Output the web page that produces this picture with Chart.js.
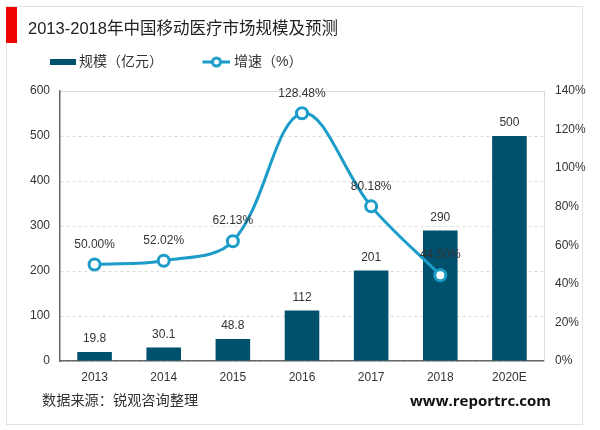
<!DOCTYPE html>
<html lang="zh"><head><meta charset="utf-8">
<script src="https://cdn.jsdelivr.net/npm/chart.js@4"></script>
<style>
html,body{margin:0;padding:0;background:#fff;width:600px;height:430px;overflow:hidden}
#wrap{position:relative;width:600px;height:430px;font-family:"Liberation Sans","Noto Sans CJK SC",sans-serif}
#frame{position:absolute;left:6px;top:6px;width:577px;height:419px;border:1px solid #e2e2e2;box-sizing:border-box}
#red{position:absolute;left:6px;top:7px;width:11px;height:36px;background:#f00000}
canvas{position:absolute;left:0;top:0}
.t{position:absolute;white-space:nowrap;color:#222}
#title{left:28px;top:17px;font-size:16.5px;line-height:22px}
#src{left:42px;top:390px;font-size:14.2px;line-height:20px;color:#333}
#web{left:410px;top:390px;font-size:15px;line-height:20px;font-weight:bold;font-family:"Open Sans","Liberation Sans",sans-serif;color:#111}
</style></head><body>
<div id="wrap">
<div id="frame"></div><div id="red"></div>
<canvas id="c" width="600" height="430"></canvas>
<div class="t" id="title">2013-2018年中国移动医疗市场规模及预测</div>
<div class="t" id="src">数据来源：锐观咨询整理</div>
<div class="t" id="web">www.reportrc.com</div>
</div>
<script>
const categories = ["2013","2014","2015","2016","2017","2018","2020E"];
const scaleValues = [19.8,30.1,48.8,112,201,290,500];
const scaleLabels = ["19.8","30.1","48.8","112","201","290","500"];
const growthValues = [50.00,52.02,62.13,128.48,80.18,44.50,null];
const seriesNames = ["规模（亿元）","增速（%）"];

const BAR="#00516e", LINE="#1b9cc9", FONT='"Liberation Sans","Noto Sans CJK SC",sans-serif';

function barIcon(){const c=document.createElement('canvas');c.width=34;c.height=6;
  const x=c.getContext('2d');x.fillStyle=BAR;x.fillRect(8,0,26,6);return c;}
function lineIcon(){const c=document.createElement('canvas');c.width=33;c.height=12;
  const x=c.getContext('2d');x.strokeStyle=LINE;x.lineWidth=3;x.beginPath();x.moveTo(5,6);x.lineTo(33,6);x.stroke();
  x.fillStyle='#fff';x.beginPath();x.arc(19,6,4,0,Math.PI*2);x.fill();x.stroke();return c;}

const labelPlugin={id:'labels',afterDatasetsDraw(chart){
  const ctx=chart.ctx;ctx.save();ctx.font='12px '+FONT;ctx.fillStyle='#333';ctx.textAlign='center';ctx.textBaseline='middle';
  chart.getDatasetMeta(1).data.forEach((b,i)=>ctx.fillText(scaleLabels[i],b.x,b.y-13));
  chart.getDatasetMeta(0).data.forEach((p,i)=>{if(growthValues[i]!=null)ctx.fillText(growthValues[i].toFixed(2)+'%',p.x,p.y-20);});
  ctx.restore();
}};
const legendPos={id:'legendPos',
  beforeLayout(chart){const l=chart.legend;if(!l._wrapped){const f=l.fit;l.fit=function(){f.call(this);this.height=32;};l._wrapped=true;}},
  afterLayout(chart){const l=chart.legend;l.left=8;l.right=600;l.top=17;l.bottom=113;}};

new Chart(document.getElementById('c'),{
  data:{labels:categories,datasets:[
    {type:'line',label:seriesNames[1],data:growthValues,yAxisID:'y1',order:0,borderColor:LINE,borderWidth:3,tension:0.36,
     pointRadius:5.5,pointBorderWidth:3,pointBackgroundColor:'#fff',pointBorderColor:LINE,pointStyle:'circle',spanGaps:false},
    {type:'bar',label:seriesNames[0],data:scaleValues,yAxisID:'y',order:1,backgroundColor:BAR,categoryPercentage:1,barPercentage:0.5}
  ]},
  plugins:[legendPos,labelPlugin],
  options:{responsive:false,animation:false,
    layout:{padding:{left:0,right:0,top:59,bottom:0}},
    plugins:{tooltip:{enabled:false},title:{display:false},
      legend:{display:true,position:'top',align:'start',
        labels:{color:'#333',font:{family:FONT,size:14},usePointStyle:true,boxHeight:12,padding:38,
          generateLabels(chart){return [
            {text:seriesNames[0],pointStyle:barIcon(),fillStyle:BAR,strokeStyle:BAR,fontColor:'#333',lineWidth:0,datasetIndex:1},
            {text:seriesNames[1],pointStyle:lineIcon(),fillStyle:LINE,strokeStyle:LINE,fontColor:'#333',lineWidth:0,datasetIndex:0}];},
          pointStyleWidth:26}}},
    scales:{
      x:{grid:{display:false},border:{color:'#666',width:1.5},
         ticks:{color:'#333',font:{family:FONT,size:12},padding:1,maxRotation:0},
         afterFit(s){s.height=69;}},
      y:{position:'left',min:0,max:600,
         ticks:{stepSize:100,color:'#333',font:{family:FONT,size:12},padding:10},
         border:{color:'#666',width:1.5,dash:c=>c.tick&&c.tick.value===600?[]:[3,3]},
         grid:{drawTicks:false,color:'#dcdcdc',lineWidth:1},
         afterFit(s){s.width=60;}},
      y1:{position:'right',min:0,max:140,
         ticks:{stepSize:20,color:'#333',font:{family:FONT,size:12},padding:11,callback:v=>v+'%'},
         border:{color:'#dcdcdc',width:1},
         grid:{display:false,drawTicks:false},
         afterFit(s){s.width=56;}}
    }
  }
});
</script>
</body></html>
